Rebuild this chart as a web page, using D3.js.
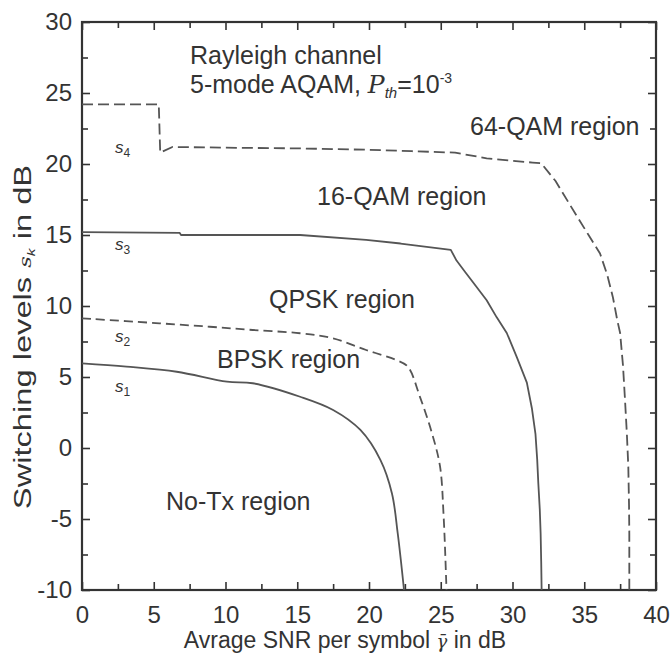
<!DOCTYPE html>
<html>
<head>
<meta charset="utf-8">
<script src="https://cdn.jsdelivr.net/npm/d3@7"></script>
<style>
  body { margin: 0; background: #fff; }
  text { font-family: "Liberation Sans", Arial, sans-serif; fill: #333; }
</style>
</head>
<body>
<div id="chart"></div>
<script>
// axis ticks
const xMajor = [0, 5, 10, 15, 20, 25, 30, 35, 40]
const yMajor = [-10, -5, 0, 5, 10, 15, 20, 25, 30]
const xMinor = [2.5, 7.5, 12.5, 17.5, 22.5, 27.5, 32.5, 37.5]
const yMinor = [-7.5, -2.5, 2.5, 7.5, 12.5, 17.5, 22.5, 27.5]

// switching level curves (SNR dB, level dB)
const s1Snr   = [0, 3.1, 6.6, 10.1, 11.9, 15.2, 17.5, 19.4, 20.8, 21.6, 22.0, 22.44]
const s1Level = [5.96, 5.73, 5.37, 4.67, 4.56, 3.61, 2.68, 1.27, -0.85, -3.2, -6.0, -10]

const s2Snr   = [0, 5.4, 8.9, 11.9, 15.2, 17.5, 19.8, 21.9, 22.7, 23.55, 24.4, 24.95, 25.2, 25.4]
const s2Level = [9.13, 8.78, 8.54, 8.31, 8.08, 7.72, 6.9, 6.2, 5.73, 3.6, 1.0, -1.3, -4.8, -10]

const s3Snr   = [0, 6.8, 6.9, 15.2, 19.8, 22.2, 25.7, 26.1, 26.7, 27.3, 28.2, 28.9, 29.6, 30.3, 31.0, 31.35, 31.6, 31.72, 31.8, 31.9, 31.96, 32.0, 32.03]
const s3Level = [15.2, 15.15, 15.0, 15.0, 14.65, 14.4, 13.95, 13.2, 12.4, 11.6, 10.4, 9.2, 8.1, 6.4, 4.6, 2.8, 1.0, -0.8, -2.5, -4.3, -6.0, -8.0, -10]

const s4Snr   = [0, 5.35, 5.45, 6.3, 10, 15, 20, 23, 26, 28.2, 31.4, 32, 33, 34.5, 35.3, 36.1, 36.6, 37, 37.3, 37.5, 37.7, 37.84, 37.97, 38.07, 38.12, 38.14, 38.14]
const s4Level = [24.2, 24.2, 20.8, 21.2, 21.15, 21.1, 21.0, 20.9, 20.8, 20.4, 20.1, 20.05, 18.8, 16.3, 15.0, 13.7, 12.2, 10.6, 9.0, 8.1, 5.8, 3.4, 1.0, -1.3, -4.0, -6.0, -10]

const width = 670, height = 655
const margin = {left: 82, right: 14, top: 22, bottom: 65}

const x = d3.scaleLinear().domain([0, 40]).range([margin.left, width - margin.right])
const y = d3.scaleLinear().domain([-10, 30]).range([height - margin.bottom, margin.top])

const svg = d3.select("#chart").append("svg")
  .attr("width", width)
  .attr("height", height)

svg.append("rect").attr("width", width).attr("height", height).attr("fill", "#fff")

// inward ticks on all four sides
function ticks(axis, vals, size, tx, ty, labels) {
  const g = svg.append("g")
    .attr("transform", "translate(" + tx + "," + ty + ")")
    .call(axis.tickValues(vals).tickSizeInner(-size).tickSizeOuter(0).tickPadding(labels ? 18 : 0)
      .tickFormat(labels ? (d => String(d)) : ""))
  g.select(".domain").remove()
  g.selectAll(".tick line").attr("stroke", "#333").attr("stroke-width", 1.6)
  g.selectAll("text").attr("font-size", 24).attr("fill", "#333")
  return g
}
const bx = height - margin.bottom, rx = width - margin.right
const xb = ticks(d3.axisBottom(x), xMajor, 8, 0, bx, true)
xb.selectAll("text").attr("y", 0).attr("dy", null).attr("transform", "translate(0,33)")
ticks(d3.axisBottom(x), xMinor, 6, 0, bx, false)
ticks(d3.axisTop(x), xMajor, 8, 0, margin.top, false)
ticks(d3.axisTop(x), xMinor, 6, 0, margin.top, false)
const yl = ticks(d3.axisLeft(y), yMajor, 8, margin.left, 0, true)
yl.selectAll("text").attr("x", -10)
ticks(d3.axisLeft(y), yMinor, 6, margin.left, 0, false)
ticks(d3.axisRight(y), yMajor, 8, rx, 0, false)
ticks(d3.axisRight(y), yMinor, 6, rx, 0, false)

svg.append("rect")
  .attr("x", margin.left).attr("y", margin.top)
  .attr("width", rx - margin.left).attr("height", bx - margin.top)
  .attr("fill", "none").attr("stroke", "#333").attr("stroke-width", 2.2)

// curves
const smooth = d3.line().x(d => x(d[0])).y(d => y(d[1])).curve(d3.curveCatmullRom.alpha(0.5))
const plain = d3.line().x(d => x(d[0])).y(d => y(d[1]))
const curves = [
  {snr: s1Snr, lvl: s1Level, dash: null, gen: smooth},
  {snr: s2Snr, lvl: s2Level, dash: "9,5", gen: smooth},
  {snr: s3Snr, lvl: s3Level, dash: null, gen: plain},
  {snr: s4Snr, lvl: s4Level, dash: "11,5", gen: plain}
]
curves.forEach(c => {
  svg.append("path")
    .datum(c.snr.map((v, i) => [v, c.lvl[i]]))
    .attr("d", c.gen)
    .attr("fill", "none")
    .attr("stroke", "#555")
    .attr("stroke-width", 1.8)
    .attr("stroke-linejoin", "round")
    .attr("stroke-dasharray", c.dash)
})

// curve labels s1..s4
const sLabels = [{k: "4", v: 20.8}, {k: "3", v: 13.95}, {k: "2", v: 7.5}, {k: "1", v: 3.95}]
sLabels.forEach(s => {
  const t = svg.append("text")
    .attr("x", x(2.3)).attr("y", y(s.v))
    .attr("font-family", "'DejaVu Serif', serif").attr("font-style", "italic")
    .attr("font-size", 17).attr("fill", "#555")
  t.append("tspan").text("s")
  t.append("tspan").attr("dy", 4).attr("font-size", 12).attr("font-style", "normal").text(s.k)
})

// region labels
const regions = [
  {t: "64-QAM region", x: 470, y: 135},
  {t: "16-QAM region", x: 317, y: 205},
  {t: "QPSK region", x: 269, y: 308},
  {t: "BPSK region", x: 217, y: 368},
  {t: "No-Tx region", x: 166, y: 510}
]
regions.forEach(r => {
  svg.append("text").attr("x", r.x).attr("y", r.y).attr("font-size", 25).text(r.t)
})

svg.append("text").attr("x", 190).attr("y", 64).attr("font-size", 25).text("Rayleigh channel")
const note = svg.append("text").attr("x", 190).attr("y", 93).attr("font-size", 25)
note.append("tspan").text("5-mode AQAM, ")
note.append("tspan").attr("font-family", "'DejaVu Serif', serif").attr("font-style", "italic").text("P")
note.append("tspan").attr("dy", 5).attr("font-size", 15).attr("font-style", "italic").text("th")
note.append("tspan").attr("dy", -5).text("=10")
note.append("tspan").attr("dy", -10).attr("font-size", 14).text("-3")

// axis titles
const xt = svg.append("text").attr("x", 345).attr("y", 648)
  .attr("text-anchor", "middle").attr("font-size", 23)
xt.append("tspan").text("Avrage SNR per symbol ")
xt.append("tspan").attr("font-family", "'DejaVu Serif', serif").attr("font-style", "italic").attr("font-size", 18).text("γ\u0304")
xt.append("tspan").text("  in dB")

const yt = svg.append("text").attr("transform", "translate(31,337) rotate(-90) scale(1.42,1)")
  .attr("text-anchor", "middle").attr("font-size", 23)
yt.append("tspan").text("Switching levels ")
yt.append("tspan").attr("font-family", "'DejaVu Serif', serif").attr("font-style", "italic").attr("font-size", 16).text("s")
yt.append("tspan").attr("dy", 4).attr("font-size", 11).attr("font-style", "italic").text("k")
yt.append("tspan").attr("dy", -4).text("  in dB")
</script>
</body>
</html>
